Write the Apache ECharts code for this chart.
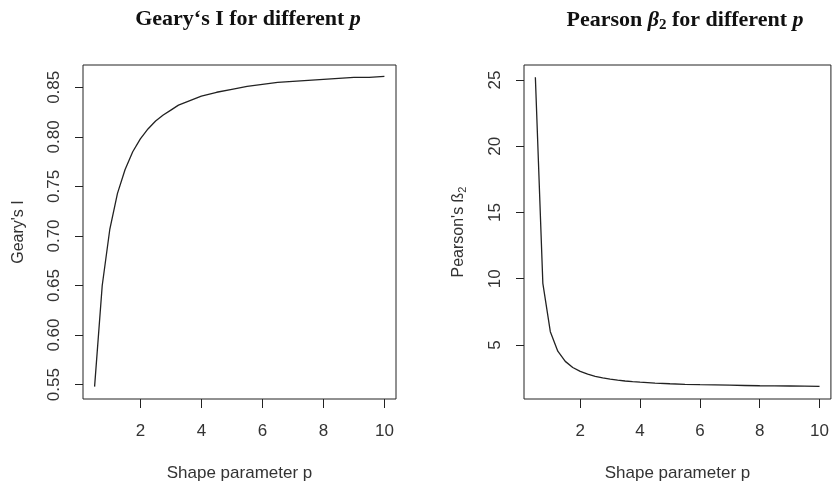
<!DOCTYPE html>
<html>
<head>
<meta charset="utf-8">
<script src="https://cdn.jsdelivr.net/npm/echarts@6/dist/echarts.min.js"></script>
<style>
  html, body { margin: 0; padding: 0; background: #fff; }
  #chart { width: 832px; height: 487px; }
</style>
</head>
<body>
<div id="chart"></div>
<script>
// shape parameter p
var shapeP = [0.5, 0.75, 1, 1.25, 1.5, 1.75, 2, 2.25, 2.5, 2.75, 3, 3.25, 3.5, 3.75, 4,
  4.5, 5, 5.5, 6, 6.5, 7, 7.5, 8, 8.5, 9, 9.5, 10]
var gearyI = [0.548, 0.650, 0.707, 0.743, 0.767, 0.785, 0.798, 0.808, 0.816, 0.822, 0.827, 0.832, 0.835, 0.838, 0.841,
  0.845, 0.848, 0.851, 0.853, 0.855, 0.856, 0.857, 0.858, 0.859, 0.860, 0.860, 0.861]
// Pearson's beta2
var pearsonB2 = [25.2, 9.65, 6.00, 4.53, 3.76, 3.30, 3.00, 2.79, 2.63, 2.51, 2.42, 2.34, 2.28, 2.23, 2.19,
  2.12, 2.07, 2.03, 2.00, 1.98, 1.96, 1.94, 1.92, 1.91, 1.90, 1.89, 1.88]

var xTicks = [2, 4, 6, 8, 10]
var gearyTicks = [0.55, 0.60, 0.65, 0.70, 0.75, 0.80, 0.85]
var pearsonTicks = [5, 10, 15, 20, 25]

var ink = '#222'
var txt = '#333'
var sans = 'Liberation Sans'
var serif = 'Liberation Serif'

function pairs(ys) {
  return shapeP.map(function (p, i) { return [p, ys[i]] })
}

function xAxisFor(idx) {
  return {
    gridIndex: idx,
    type: 'value',
    min: 0.12,
    max: 10.38,
    name: 'Shape parameter p',
    nameLocation: 'middle',
    nameGap: 66,
    nameTextStyle: { fontFamily: sans, fontSize: 17, color: txt },
    axisLine: { show: false },
    splitLine: { show: false },
    axisTick: { show: true, inside: false, length: 9, lineStyle: { color: ink }, customValues: xTicks },
    axisLabel: { fontFamily: sans, fontSize: 17, color: txt, margin: 24, customValues: xTicks }
  }
}

function yAxisFor(idx, min, max, ticks, name, fmt) {
  return {
    gridIndex: idx,
    type: 'value',
    min: min,
    max: max,
    name: name,
    nameLocation: 'middle',
    nameRotate: 90,
    nameGap: 56,
    nameTextStyle: {
      fontFamily: sans, fontSize: 16, color: txt,
      rich: { sub: { fontFamily: sans, fontSize: 11, color: txt, verticalAlign: 'bottom', padding: [8, 0, 0, 0] } }
    },
    axisLine: { show: false },
    splitLine: { show: false },
    axisTick: { show: true, inside: false, length: 8, lineStyle: { color: ink }, customValues: ticks },
    axisLabel: {
      fontFamily: sans, fontSize: 17, color: txt, rotate: 90, margin: 20,
      customValues: ticks, formatter: fmt
    }
  }
}

var chart = echarts.init(document.getElementById('chart'))

chart.setOption({
  backgroundColor: '#fff',
  animation: false,
  title: [{
    text: 'Geary\u2018s I for different {it|p}',
    left: 243, top: 3, textAlign: 'center',
    textStyle: {
      fontFamily: serif, fontSize: 22, fontWeight: 'bold', color: '#111',
      rich: { it: { fontFamily: serif, fontSize: 22, fontWeight: 'bold', fontStyle: 'italic', color: '#111' } }
    }
  }, {
    text: 'Pearson {it|\u03b2}{sub|2} for different {it|p}',
    left: 680, top: 3, textAlign: 'center',
    textStyle: {
      fontFamily: serif, fontSize: 22, fontWeight: 'bold', color: '#111',
      rich: {
        it: { fontFamily: serif, fontSize: 22, fontWeight: 'bold', fontStyle: 'italic', color: '#111' },
        sub: { fontFamily: serif, fontSize: 15, fontWeight: 'bold', color: '#111', verticalAlign: 'bottom', padding: [10, 0, 0, 0] }
      }
    }
  }],
  grid: [
    { left: 83, top: 65, width: 313, height: 334, show: true, borderColor: ink, borderWidth: 1, backgroundColor: 'transparent' },
    { left: 524, top: 65, width: 311, height: 334, show: true, borderColor: ink, borderWidth: 1, backgroundColor: 'transparent' }
  ],
  xAxis: [xAxisFor(0), xAxisFor(1)],
  yAxis: [
    yAxisFor(0, 0.5355, 0.8725, gearyTicks, "Geary's I", function (v) { return v.toFixed(2) }),
    yAxisFor(1, 0.92, 26.13, pearsonTicks, "Pearson's \u00df{sub|2}", function (v) { return String(v) })
  ],
  series: [{
    type: 'line',
    xAxisIndex: 0, yAxisIndex: 0,
    data: pairs(gearyI),
    showSymbol: false,
    lineStyle: { color: ink, width: 1.3 }
  }, {
    type: 'line',
    xAxisIndex: 1, yAxisIndex: 1,
    data: pairs(pearsonB2),
    showSymbol: false,
    lineStyle: { color: ink, width: 1.3 }
  }]
})
</script>
</body>
</html>
